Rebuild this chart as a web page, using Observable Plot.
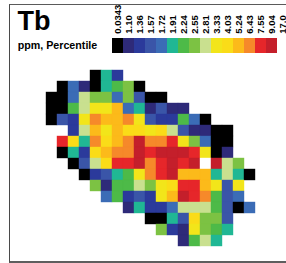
<!DOCTYPE html>
<html>
<head>
<meta charset="utf-8">
<script src="https://cdn.jsdelivr.net/npm/d3@7"></script>
<script src="https://cdn.jsdelivr.net/npm/@observablehq/plot@0.6"></script>
<style>
  html, body { margin: 0; padding: 0; background: #fff; overflow: hidden; }
  #wrap { position: relative; width: 286px; height: 263px; overflow: hidden; font-family: "Liberation Sans", Arial, sans-serif; }
  #frame { position: absolute; left: 9px; top: 4px; width: 320px; height: 256px;
           border-left: 1.5px solid #4a4a4a; border-top: 1.5px solid #5a5a5a; border-bottom: 2px solid #5e5e5e; }
  .layer { position: absolute; left: 0; top: 0; }
  #title { position: absolute; left: 17.5px; top: 7.6px; font-size: 27px; line-height: 27px; font-weight: bold; color: #000; }
  #subtitle { position: absolute; left: 17.7px; top: 39.8px; font-size: 10.7px; line-height: 10.7px; font-weight: bold; color: #000; white-space: nowrap; }
</style>
</head>
<body>
<div id="wrap">
  <div id="frame"></div>
  <div id="legend" class="layer"></div>
  <div id="grid" class="layer"></div>
  <div id="title">Tb</div>
  <div id="subtitle">ppm, Percentile</div>
</div>
<script>
// Legend bins (ppm, percentile break values) and their colours
const legendLabels = ["0.0343", "1.10", "1.36", "1.57", "1.72", "1.91", "2.24", "2.55", "2.81", "3.33", "4.03", "5.24", "6.43", "7.55", "9.04", "17.0"];
const legendColors = ["#000000", "#2e2a79", "#2b3a9b", "#3a55a8", "#3b6cb6", "#20b794", "#4dba48", "#7cc243", "#c9e08f", "#f2e51a", "#fadc18", "#fcba1a", "#f6892a", "#e6262a", "#c41f2b", "#ffffff"];

// Map grid: for each row, the first column and the cell values (ppm)
const rowStart = [4, 1, 0, 0, 0, 2, 1, 1, 2, 3, 4, 5, 7, 9, 10, 12];
const rowValues = [
  [0.0343, 1.91, 1.36],
  [0.0343, 1.72, 1.10, 0.0343, 1.91, 2.24, 2.55, 0.0343],
  [0.0343, 0.0343, 1.72, 2.81, 2.55, 2.55, 1.72, 2.55, 1.57, 0.0343, 0.0343],
  [0.0343, 0.0343, 2.24, 2.81, 3.33, 3.33, 5.24, 1.72, 1.91, 1.10, 1.57, 1.10, 1.10],
  [0.0343, 1.57, 1.36, 3.33, 6.43, 5.24, 5.24, 6.43, 3.33, 1.57, 1.36, 1.36, 2.24, 1.72, 0.0343],
  [1.36, 2.81, 5.24, 3.33, 5.24, 4.03, 4.03, 3.33, 4.03, 2.81, 1.57, 1.10, 1.10, 0.0343, 0.0343],
  [7.55, 4.03, 1.91, 6.43, 4.03, 5.24, 6.43, 9.04, 6.43, 6.43, 7.55, 3.33, 2.55, 1.72, 0.0343, 0.0343],
  [0.0343, 1.91, 1.36, 4.03, 5.24, 6.43, 6.43, 9.04, 7.55, 9.04, 9.04, 9.04, 7.55, 3.33, 0.0343, 1.10],
  [0.0343, 1.57, 2.81, 4.03, 7.55, 7.55, 9.04, 6.43, 7.55, 9.04, 7.55, 9.04, 17.0, 9.04, 2.81, 2.55],
  [0.0343, 1.36, 1.57, 1.91, 2.24, 3.33, 6.43, 7.55, 9.04, 5.24, 5.24, 5.24, 1.91, 2.81, 1.91, 0.0343],
  [2.55, 1.10, 2.24, 2.24, 2.81, 2.55, 3.33, 4.03, 7.55, 7.55, 5.24, 3.33, 1.57, 3.33],
  [1.72, 2.24, 1.36, 1.57, 1.36, 3.33, 5.24, 9.04, 7.55, 6.43, 2.24, 1.57, 1.72],
  [1.10, 1.91, 1.36, 1.36, 1.72, 2.81, 2.81, 2.81, 2.24, 1.57, 0.0343, 1.72],
  [0.0343, 0.0343, 1.91, 1.57, 4.03, 2.55, 2.55, 1.57],
  [2.55, 1.36, 1.10, 3.33, 2.55, 2.24, 1.91],
  [1.10, 2.24, 2.81, 1.91]
];
const nCols = 19;
const nRows = 16;

const thresholds = legendLabels.slice(1).map(Number);
const colorScale = {type: "threshold", domain: thresholds, range: legendColors};

const cells = [];
rowValues.forEach((vals, r) => vals.forEach((v, i) => cells.push({row: r, col: rowStart[r] + i, value: v})));

const grid = Plot.plot({
  width: 286, height: 263, margin: 0,
  style: {background: "transparent"},
  x: {type: "band", domain: d3.range(nCols), range: [42.7, 257.4], padding: 0, axis: null},
  y: {type: "band", domain: d3.range(nRows), range: [67.3, 249.7], padding: 0, axis: null},
  color: colorScale,
  marks: [
    Plot.cell(cells, {x: "col", y: "row", fill: "value", stroke: "value", strokeWidth: 0.4})
  ]
});
document.getElementById("grid").appendChild(grid);

const legend = Plot.plot({
  width: 286, height: 60, marginTop: 38, marginBottom: 7, marginLeft: 0, marginRight: 0,
  style: {background: "transparent", overflow: "visible"},
  x: {type: "band", domain: legendLabels, range: [110, 110 + 16 * 11.3], padding: 0, axis: null},
  color: colorScale,
  marks: [
    Plot.cell(legendLabels, {x: d => d, fill: d => +d}),
    Plot.text(legendLabels, {x: d => d, text: d => d, frameAnchor: "top", dy: -4.8, rotate: -90,
      textAnchor: "start", lineAnchor: "middle", fontSize: 9.5, fontWeight: "bold",
      fontFamily: "Liberation Sans, Arial, sans-serif", fill: "#000"})
  ]
});
document.getElementById("legend").appendChild(legend);
</script>
</body>
</html>
